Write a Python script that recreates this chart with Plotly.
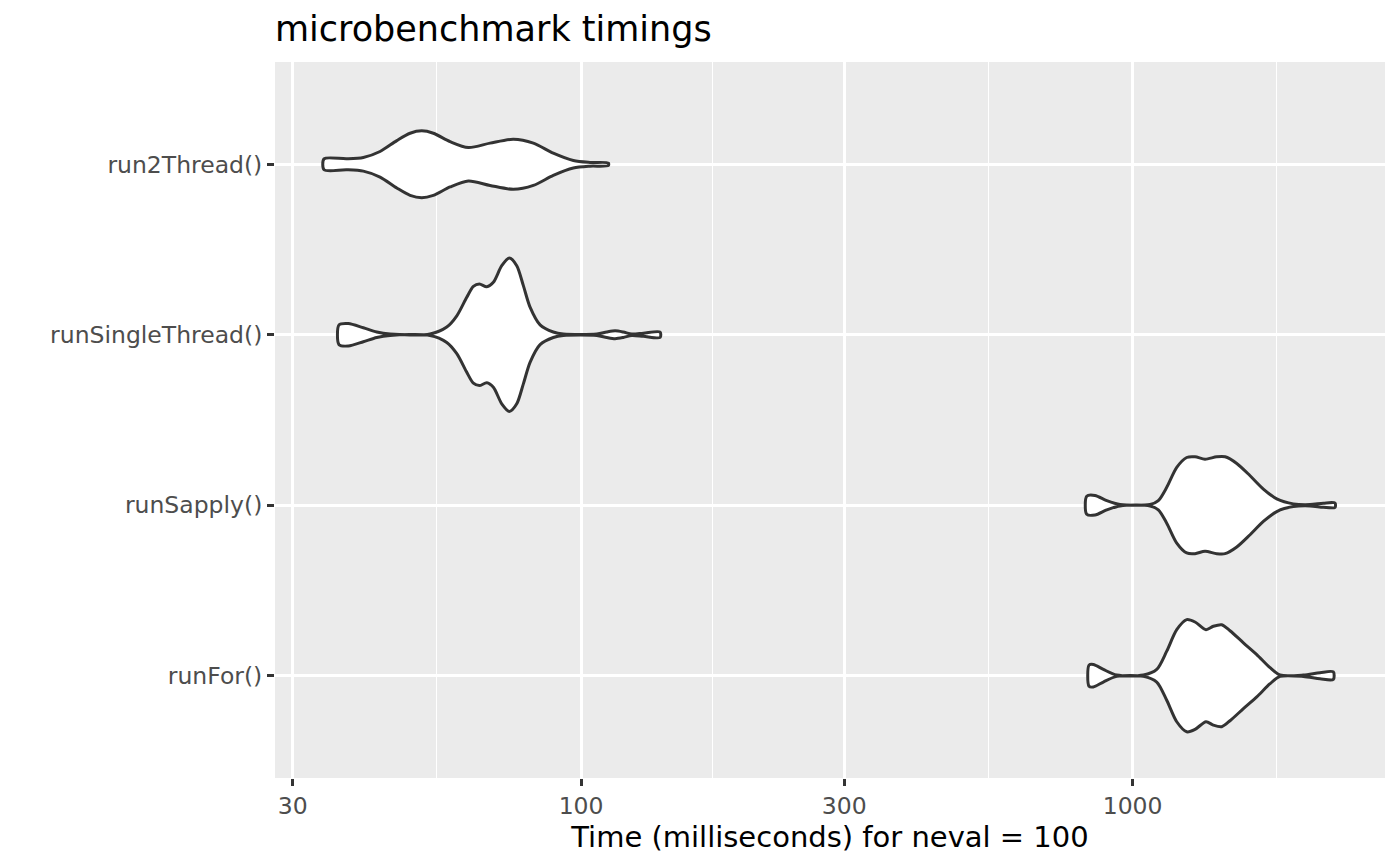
import numpy as np
import plotly.graph_objects as go

# categories bottom -> top, as ggplot draws them
categories = ["runFor()", "runSapply()", "runSingleThread()", "run2Thread()"]

# violin outlines: time (ms) and half width (category units)
runFor_ms = [833.6, 848.7, 885.0, 935.8, 1045.7, 1105.9, 1153.1, 1202.3, 1253.5, 1297.7,
             1358.6, 1400.6, 1450.6, 1501.7, 1588.0, 1679.2, 1774.8, 1850.4, 2039.5, 2186.6, 2311.4]
runFor_hw = [0.062, 0.066, 0.037, 0.004, 0.004, 0.037, 0.144, 0.270, 0.329, 0.315,
             0.270, 0.290, 0.299, 0.264, 0.193, 0.124, 0.047, 0.004, 0.004, 0.018, 0.022]

runSapply_ms = [825.6, 854.7, 897.5, 948.9, 1075.4, 1113.3, 1153.1, 1202.3, 1253.5, 1297.7,
                1352.9, 1420.6, 1471.1, 1544.7, 1632.9, 1726.1, 1825.3, 1956.3, 2097.3, 2216.9, 2327.8]
runSapply_hw = [0.053, 0.057, 0.027, 0.004, 0.004, 0.027, 0.105, 0.222, 0.280, 0.284,
                0.270, 0.284, 0.284, 0.245, 0.173, 0.095, 0.037, 0.008, 0.004, 0.012, 0.013]

runSingleThread_ms = [36.41, 37.85, 40.30, 42.62, 45.06, 53.23, 57.09, 59.53, 62.06, 63.80,
                      65.41, 67.47, 69.35, 71.82, 74.13, 76.46, 78.60, 80.83, 84.28, 89.06,
                      92.88, 106.8, 111.3, 115.3, 119.3, 123.6, 129.7, 139.1]
runSingleThread_hw = [0.058, 0.066, 0.041, 0.016, 0.004, 0.004, 0.045, 0.111, 0.220, 0.284,
                      0.298, 0.282, 0.308, 0.405, 0.450, 0.405, 0.288, 0.162, 0.058, 0.016,
                      0.004, 0.004, 0.016, 0.023, 0.016, 0.004, 0.009, 0.016]

run2Thread_ms = [34.20, 37.60, 40.30, 43.21, 46.34, 48.98, 51.43, 53.98, 57.88, 62.48,
                 68.40, 75.38, 81.95, 89.06, 96.84, 103.8, 112.1]
run2Thread_hw = [0.032, 0.032, 0.040, 0.075, 0.139, 0.182, 0.196, 0.182, 0.133, 0.098,
                 0.124, 0.147, 0.124, 0.065, 0.022, 0.011, 0.007]

violins = [
    (runFor_ms, runFor_hw),
    (runSapply_ms, runSapply_hw),
    (runSingleThread_ms, runSingleThread_hw),
    (run2Thread_ms, run2Thread_hw),
]

major_breaks = [30, 100, 300, 1000]
# ggplot style minor breaks: log-space midpoints, last one uses the first break step
logb = np.log10(major_breaks)
logb = np.append(logb, logb[-1] + (logb[1] - logb[0]))
minor_breaks = list(10 ** ((logb[:-1] + logb[1:]) / 2))

fig = go.Figure()

for pos, (ms, hw) in enumerate(violins, start=1):
    ms = list(ms)
    hw = np.array(hw)
    # upper edge left->right, lower edge back right->left, then close
    xs = ms + ms[::-1] + [ms[0]]
    ys = list(pos + hw) + list((pos - hw)[::-1]) + [pos + hw[0]]
    fig.add_trace(go.Scatter(
        x=xs, y=ys,
        mode="lines",
        fill="toself",
        fillcolor="white",
        line=dict(color="#333333", width=3, shape="spline", smoothing=0.8),
        name=categories[pos - 1],
        hoverinfo="skip",
        showlegend=False,
    ))

# page body has an 8px margin, so the margins are shifted by that
fig.update_layout(
    width=1400, height=865,
    margin=dict(l=267, r=23, t=54, b=95),
    paper_bgcolor="white",
    plot_bgcolor="#EBEBEB",
    font=dict(family="DejaVu Sans", color="#4D4D4D"),
    title=dict(
        text="microbenchmark timings",
        font=dict(size=35, color="black"),
        x=0, xref="paper", xanchor="left",
        y=1 - 21 / 865, yref="container", yanchor="middle",
    ),
)

fig.update_xaxes(
    type="log",
    range=[np.log10(27.87), np.log10(2868)],
    tickvals=major_breaks,
    ticktext=[str(b) for b in major_breaks],
    tickfont=dict(size=23.5, color="#4D4D4D"),
    ticks="outside", ticklen=7, tickwidth=2.8, tickcolor="#333333",
    showgrid=True, gridcolor="white", gridwidth=2.8,
    minor=dict(tickvals=minor_breaks, showgrid=True, gridcolor="white", gridwidth=1.4, ticks=""),
    zeroline=False, showline=False,
    title=dict(text="Time (milliseconds) for neval = 100",
               font=dict(size=29, color="black"), standoff=6),
)

fig.update_yaxes(
    range=[0.4, 4.6],
    tickvals=[1, 2, 3, 4],
    ticktext=categories,
    tickfont=dict(size=23.5, color="#4D4D4D"),
    ticks="outside", ticklen=7, tickwidth=2.8, tickcolor="#333333",
    ticklabelstandoff=0,
    showgrid=True, gridcolor="white", gridwidth=2.8,
    zeroline=False, showline=False,
)

fig.write_html("out.html")
